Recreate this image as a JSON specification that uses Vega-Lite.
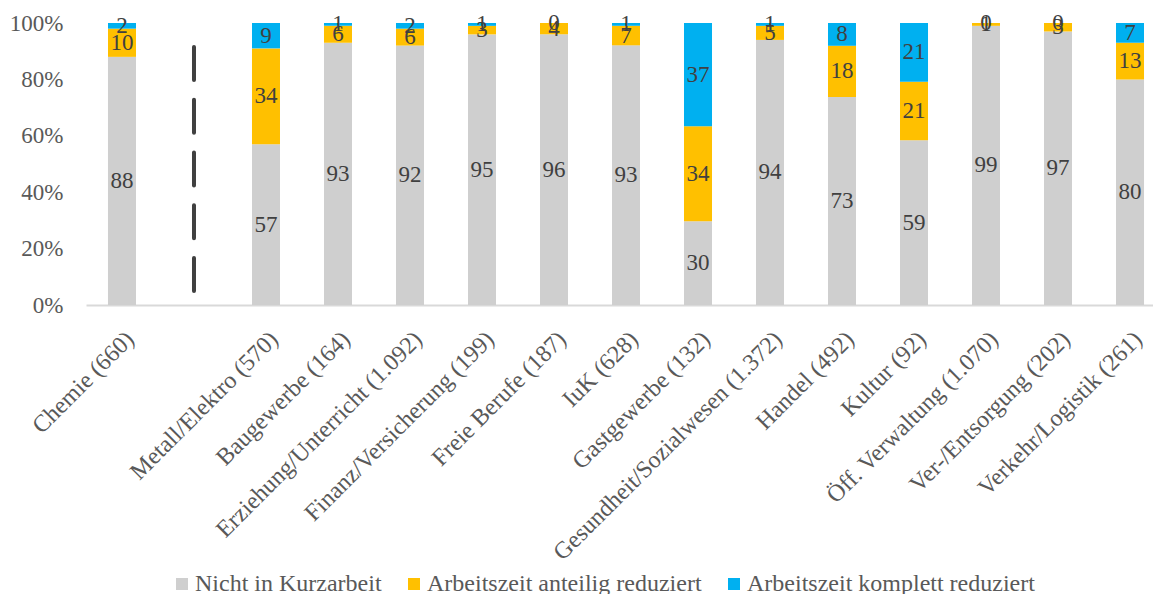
{
  "$schema": "https://vega.github.io/schema/vega-lite/v6.json",
  "width": 1067,
  "height": 282,
  "autosize": {"type": "none"},
  "padding": {"left": 86, "top": 23, "right": 0, "bottom": 289},
  "config": {
    "view": {"stroke": null},
    "font": "'Liberation Serif', 'Times New Roman', serif",
    "legend": {
      "orient": "none",
      "legendX": 84,
      "legendY": 549,
      "direction": "horizontal",
      "symbolType": "square",
      "symbolSize": 144,
      "symbolStrokeWidth": 0,
      "labelFont": "'Liberation Serif', 'Times New Roman', serif",
      "labelFontSize": 24,
      "labelColor": "#595959",
      "labelOffset": 1,
      "columnPadding": 20,
      "labelLimit": 0
    }
  },
  "datasets": {
    "kurz": [
      {"cat": "Chemie (660)", "Nicht in Kurzarbeit": 88, "Arbeitszeit anteilig reduziert": 10, "Arbeitszeit komplett reduziert": 2},
      {"cat": "Metall/Elektro (570)", "Nicht in Kurzarbeit": 57, "Arbeitszeit anteilig reduziert": 34, "Arbeitszeit komplett reduziert": 9},
      {"cat": "Baugewerbe (164)", "Nicht in Kurzarbeit": 93, "Arbeitszeit anteilig reduziert": 6, "Arbeitszeit komplett reduziert": 1},
      {"cat": "Erziehung/Unterricht (1.092)", "Nicht in Kurzarbeit": 92, "Arbeitszeit anteilig reduziert": 6, "Arbeitszeit komplett reduziert": 2},
      {"cat": "Finanz/Versicherung (199)", "Nicht in Kurzarbeit": 95, "Arbeitszeit anteilig reduziert": 3, "Arbeitszeit komplett reduziert": 1},
      {"cat": "Freie Berufe (187)", "Nicht in Kurzarbeit": 96, "Arbeitszeit anteilig reduziert": 4, "Arbeitszeit komplett reduziert": 0},
      {"cat": "IuK (628)", "Nicht in Kurzarbeit": 93, "Arbeitszeit anteilig reduziert": 7, "Arbeitszeit komplett reduziert": 1},
      {"cat": "Gastgewerbe (132)", "Nicht in Kurzarbeit": 30, "Arbeitszeit anteilig reduziert": 34, "Arbeitszeit komplett reduziert": 37},
      {"cat": "Gesundheit/Sozialwesen (1.372)", "Nicht in Kurzarbeit": 94, "Arbeitszeit anteilig reduziert": 5, "Arbeitszeit komplett reduziert": 1},
      {"cat": "Handel (492)", "Nicht in Kurzarbeit": 73, "Arbeitszeit anteilig reduziert": 18, "Arbeitszeit komplett reduziert": 8},
      {"cat": "Kultur (92)", "Nicht in Kurzarbeit": 59, "Arbeitszeit anteilig reduziert": 21, "Arbeitszeit komplett reduziert": 21},
      {"cat": "Öff. Verwaltung (1.070)", "Nicht in Kurzarbeit": 99, "Arbeitszeit anteilig reduziert": 1, "Arbeitszeit komplett reduziert": 0},
      {"cat": "Ver-/Entsorgung (202)", "Nicht in Kurzarbeit": 97, "Arbeitszeit anteilig reduziert": 3, "Arbeitszeit komplett reduziert": 0},
      {"cat": "Verkehr/Logistik (261)", "Nicht in Kurzarbeit": 80, "Arbeitszeit anteilig reduziert": 13, "Arbeitszeit komplett reduziert": 7}
    ],
    "trenner": [{"cat": " ", "von": 0.05, "bis": 0.915}]
  },
  "layer": [
    {
      "data": {"name": "kurz"},
      "transform": [
        {"fold": ["Nicht in Kurzarbeit", "Arbeitszeit anteilig reduziert", "Arbeitszeit komplett reduziert"], "as": ["series", "v"]},
        {"stack": "v", "groupby": ["cat"], "offset": "normalize", "as": ["y0", "y1"]}
      ],
      "mark": {"type": "bar"},
      "encoding": {
        "x": {
          "field": "cat", "type": "nominal", "title": null,
          "scale": {
            "domain": ["Chemie (660)", " ", "Metall/Elektro (570)", "Baugewerbe (164)", "Erziehung/Unterricht (1.092)", "Finanz/Versicherung (199)", "Freie Berufe (187)", "IuK (628)", "Gastgewerbe (132)", "Gesundheit/Sozialwesen (1.372)", "Handel (492)", "Kultur (92)", "Öff. Verwaltung (1.070)", "Ver-/Entsorgung (202)", "Verkehr/Logistik (261)"],
            "paddingInner": 0.611, "paddingOuter": 0.215, "align": 0.71
          },
          "axis": {
            "labelAngle": -45, "labelFont": "'Liberation Serif', 'Times New Roman', serif", "labelFontSize": 24, "labelColor": "#595959",
            "ticks": false, "domainColor": "#d9d9d9", "domainWidth": 2, "labelPadding": 22, "labelLimit": 0
          }
        },
        "y": {
          "field": "y0", "type": "quantitative", "title": null,
          "scale": {"domain": [0, 1], "nice": false},
          "axis": {
            "values": [0, 0.2, 0.4, 0.6, 0.8, 1], "format": ".0%", "grid": false, "domain": false, "ticks": false,
            "labelFont": "'Liberation Serif', 'Times New Roman', serif", "labelFontSize": 23, "labelColor": "#595959", "labelPadding": 23
          }
        },
        "y2": {"field": "y1"},
        "color": {
          "field": "series", "type": "nominal", "title": null,
          "scale": {
            "domain": ["Nicht in Kurzarbeit", "Arbeitszeit anteilig reduziert", "Arbeitszeit komplett reduziert"],
            "range": ["#cfcfcf", "#ffc000", "#00b0f0"]
          }
        }
      }
    },
    {
      "data": {"name": "kurz"},
      "transform": [
        {"fold": ["Nicht in Kurzarbeit", "Arbeitszeit anteilig reduziert", "Arbeitszeit komplett reduziert"], "as": ["series", "v"]},
        {"stack": "v", "groupby": ["cat"], "offset": "normalize", "as": ["y0", "y1"]},
        {"calculate": "(datum.y0 + datum.y1) / 2", "as": "mid"}
      ],
      "mark": {"type": "text", "font": "'Liberation Serif', 'Times New Roman', serif", "fontSize": 23, "color": "#404040", "baseline": "middle", "align": "center"},
      "encoding": {
        "x": {"field": "cat", "type": "nominal"},
        "y": {"field": "mid", "type": "quantitative"},
        "text": {"field": "v", "type": "quantitative"}
      }
    },
    {
      "data": {"name": "trenner"},
      "mark": {"type": "rule", "color": "#404040", "strokeWidth": 4, "strokeCap": "round", "strokeDash": [33, 19.75]},
      "encoding": {
        "x": {"field": "cat", "type": "nominal"},
        "y": {"field": "von", "type": "quantitative"},
        "y2": {"field": "bis"}
      }
    }
  ]
}
